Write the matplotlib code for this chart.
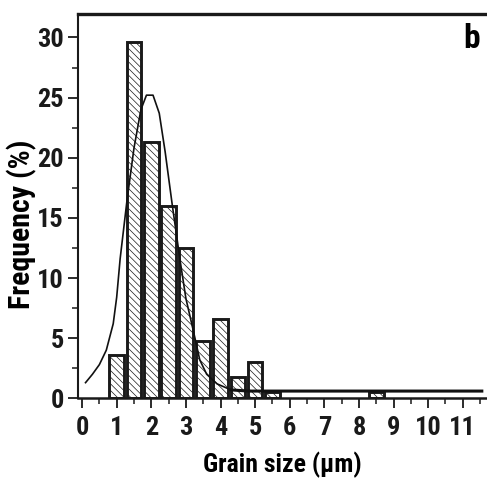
import matplotlib
matplotlib.use("Agg")
import matplotlib.pyplot as plt
from matplotlib.ticker import MultipleLocator

# -------------------------------------------------------
# Data
# -------------------------------------------------------
bin_centers = [1.0, 1.5, 2.0, 2.5, 3.0, 3.5, 4.0, 4.5, 5.0, 5.5, 8.5]
frequency = [3.6, 29.6, 21.3, 16.0, 12.5, 4.8, 6.6, 1.8, 3.0, 0.55, 0.55]

# fitted distribution curve
fit_x = [0.1, 0.3, 0.5, 0.7, 0.9, 1.0, 1.1, 1.3, 1.5, 1.7, 1.86, 2.05, 2.23,
         2.4, 2.6, 2.83, 3.0, 3.2, 3.4, 3.6, 3.9, 4.3, 4.8, 11.55]
fit_y = [1.3, 2.0, 2.8, 4.0, 6.2, 8.4, 11.6, 16.5, 20.8, 24.0, 25.2, 25.2, 23.7,
         20.5, 16.2, 11.5, 8.3, 5.8, 3.2, 2.0, 1.2, 0.7, 0.6, 0.6]

bar_width = 0.42

plt.rcParams["font.family"] = ["Roboto Condensed", "PT Sans Narrow", "DejaVu Sans"]
plt.rcParams["font.weight"] = "bold"
plt.rcParams["hatch.linewidth"] = 0.5
plt.rcParams["hatch.color"] = "#666666"

fig = plt.figure(figsize=(4.87, 4.79), dpi=100)
ax = fig.add_axes([0.160, 0.1685, 0.840, 0.8023])

ax.bar(bin_centers, frequency, width=bar_width, color="white",
       edgecolor="#1a1a1a", linewidth=2.1, hatch="\\\\\\\\\\", zorder=2)

ax.plot(fit_x, fit_y, color="#111111", linewidth=1.2, zorder=3)
# flat tail looks heavier in the original
ax.plot(fit_x[-3:], fit_y[-3:], color="#111111", linewidth=2.2, zorder=3)

ax.set_xlim(-0.12, 11.7)
ax.set_ylim(0, 31.95)

ax.xaxis.set_major_locator(MultipleLocator(1))
ax.xaxis.set_minor_locator(MultipleLocator(0.5))
ax.yaxis.set_major_locator(MultipleLocator(5))
ax.yaxis.set_minor_locator(MultipleLocator(2.5))

ax.tick_params(axis="both", which="major", direction="out", length=7,
               width=1.3, labelsize=19, colors="#1a1a1a")
ax.tick_params(axis="both", which="minor", direction="out", length=4,
               width=1.1, colors="#1a1a1a")
ax.tick_params(axis="x", which="major", pad=6)
ax.tick_params(axis="y", which="major", pad=3)

ax.spines["right"].set_visible(False)
ax.spines["top"].set_linewidth(2.4)
ax.spines["bottom"].set_linewidth(1.8)
ax.spines["left"].set_linewidth(1.5)
for s in ax.spines.values():
    s.set_color("#1a1a1a")

ax.set_xlabel("Grain size (\u03bcm)", fontsize=18.5, fontweight="bold")
ax.xaxis.label.set_va("center")
ax.xaxis.set_label_coords(0.5, -0.172)

ax.set_ylabel("Frequency (%)", fontsize=21.5, fontweight="bold")
ax.yaxis.label.set_va("center")
ax.yaxis.set_label_coords(-0.137, 0.4535)

ax.text(0.983, 0.935, "b", transform=ax.transAxes, fontsize=24,
        fontweight="bold", ha="right", va="center")

fig.savefig("out.png", dpi=100)
